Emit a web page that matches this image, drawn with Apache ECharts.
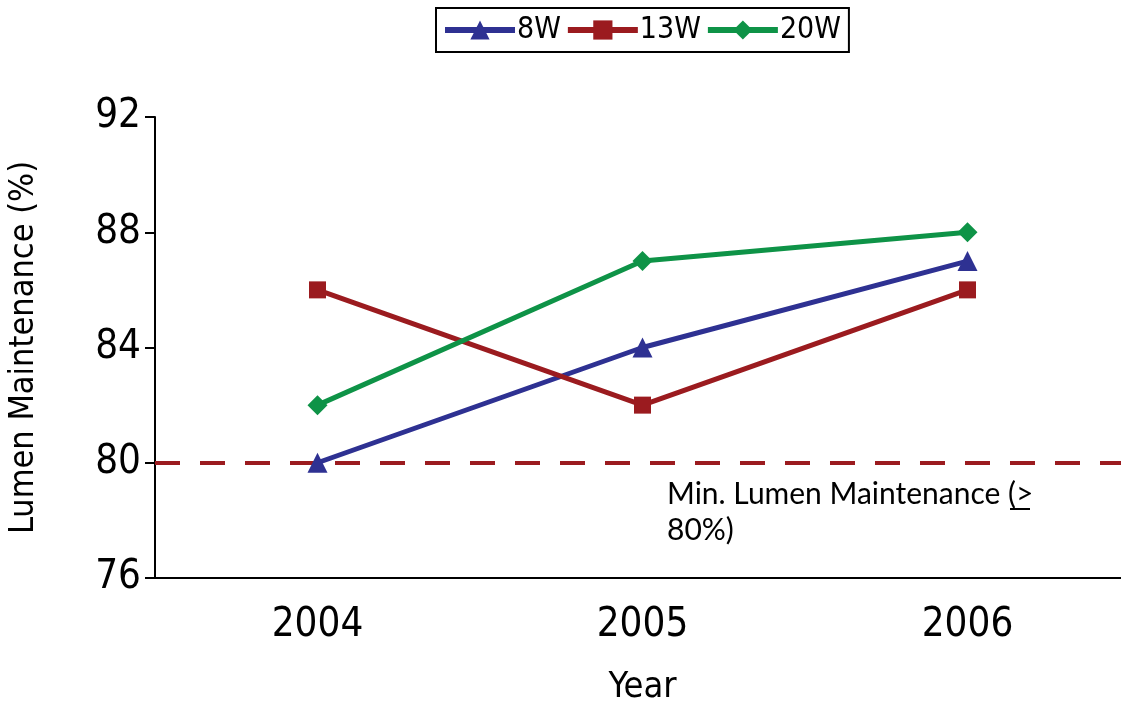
<!DOCTYPE html>
<html>
<head>
<meta charset="utf-8">
<script src="https://cdn.jsdelivr.net/npm/echarts@6/dist/echarts.min.js"></script>
<style>html,body{margin:0;padding:0;background:#fff;}#c{width:1121px;height:702px;}</style>
</head>
<body>
<div id="c"></div>
<script>
const years = ['2004', '2005', '2006'];
const s8W = [80, 84, 87];
const s13W = [86, 82, 86];
const s20W = [82, 87, 88];
const yTicks = [76, 80, 84, 88, 92];
const threshold = 80;
const thresholdLabel = ['Min. Lumen Maintenance (>', '80%)'];

const FONT = '"Liberation Sans Narrow", "DejaVu Sans Condensed", sans-serif';
const chart = echarts.init(document.getElementById('c'));
const mk = (name, data, color, symbol, size) => ({
  name, type: 'line', data,
  symbol, symbolSize: size,
  lineStyle: { color, width: 5 },
  itemStyle: { color },
  z: 3
});
const series = [
  mk('8W', s8W, '#2E3192', 'triangle', 20),
  mk('13W', s13W, '#9B1B1F', 'rect', 17),
  mk('20W', s20W, '#0E9347', 'diamond', 20)
];
series[0].markLine = {
  silent: true, symbol: 'none',
  lineStyle: { color: '#9B1B1F', width: 4, type: [25, 20] },
  label: { show: false },
  data: [{ yAxis: threshold }],
  z: 2
};
chart.setOption({
  animation: false,
  backgroundColor: '#fff',
  legend: {
    left: 436, top: 8,
    itemWidth: 70, itemHeight: 24, itemGap: 4,
    padding: [7, 8, 7, 6],
    borderColor: '#000', borderWidth: 2,
    lineStyle: { width: 6 },
    textStyle: { fontFamily: FONT, fontSize: 30, color: '#000', padding: [0, 0, 0, -3] },
    data: ['8W', '13W', '20W']
  },
  grid: { left: 155, top: 117, width: 975, bottom: 124, containLabel: false, outerBoundsMode: 'none' },
  xAxis: {
    type: 'category', data: years, boundaryGap: true,
    name: 'Year', nameLocation: 'middle', nameGap: 92,
    nameTextStyle: { fontFamily: FONT, fontSize: 36, color: '#000' },
    axisLine: { lineStyle: { color: '#000', width: 2 } },
    axisTick: { length: 12, lineStyle: { color: '#000', width: 2 } },
    axisLabel: { fontFamily: FONT, fontSize: 40, color: '#000', margin: 28 },
    splitLine: { show: false }
  },
  yAxis: {
    type: 'value', min: yTicks[0], max: yTicks[yTicks.length - 1], interval: 4,
    name: 'Lumen Maintenance (%)', nameLocation: 'middle', nameGap: 114,
    nameTextStyle: { fontFamily: FONT, fontSize: 34, color: '#000' },
    axisLine: { show: true, lineStyle: { color: '#000', width: 2 } },
    axisTick: { show: true, length: 10, lineStyle: { color: '#000', width: 2 } },
    axisLabel: { fontFamily: FONT, fontSize: 40, color: '#000', margin: 14 },
    splitLine: { show: false }
  },
  graphic: [{
    type: 'text', left: 667, top: 476,
    style: { text: thresholdLabel.join('\n'), font: '30px Lato, "Open Sans", sans-serif', fill: '#000', lineHeight: 36 }
  }, {
    type: 'line', shape: { x1: 1010, y1: 509, x2: 1030, y2: 509 },
    style: { stroke: '#000', lineWidth: 2 }
  }],
  series
});
</script>
</body>
</html>
